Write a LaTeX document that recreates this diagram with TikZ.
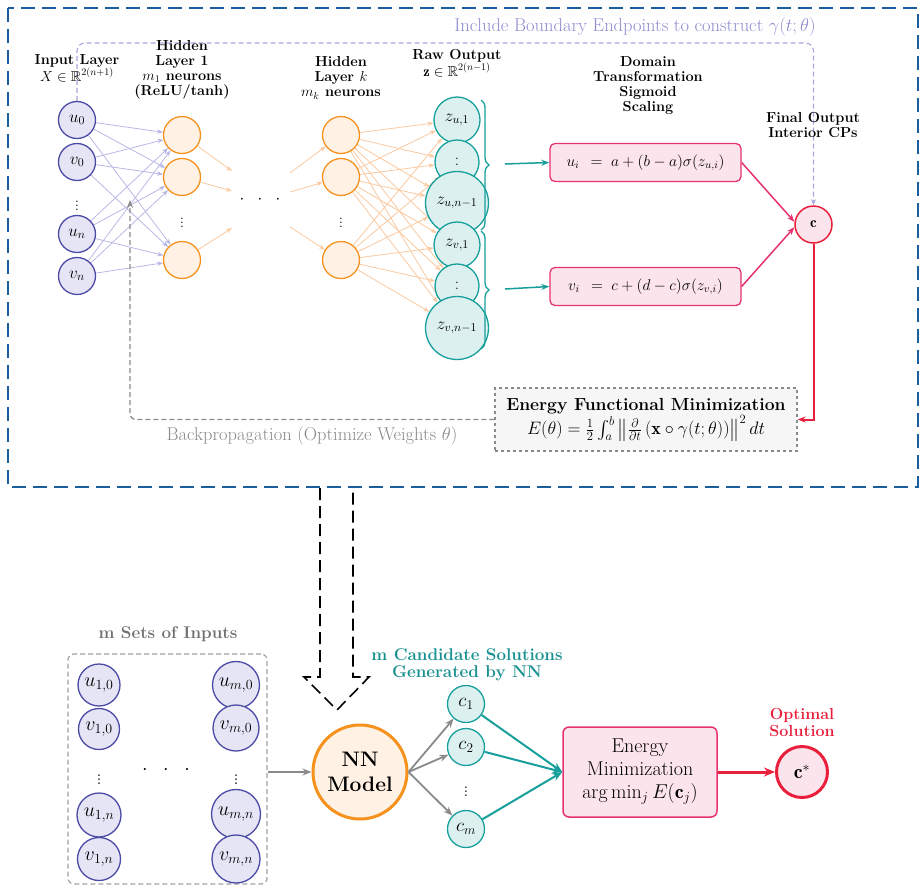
\RequirePackage{fix-cm}
\documentclass[tikz,border=0pt]{standalone}
\usepackage{amsmath,amssymb}
\usepackage{fontspec}
\usetikzlibrary{arrows.meta,decorations.pathreplacing,calc}
\pgfdeclarelayer{bg}
\pgfsetlayers{bg,main}
\newcommand{\fs}[2]{\fontsize{#1}{#2}\selectfont}
\definecolor{boxblue}{HTML}{1B5E9E}
\definecolor{lav}{HTML}{8C8CD0}
\definecolor{lavL}{HTML}{A8A8DE}
\definecolor{inpB}{HTML}{4B4BA6}
\definecolor{inpF}{HTML}{E5E5F5}
\definecolor{inpA}{HTML}{B8B8E6}
\definecolor{orB}{HTML}{F5921E}
\definecolor{orF}{HTML}{FFF1E3}
\definecolor{orA}{HTML}{FAC9A0}
\definecolor{tealB}{HTML}{17A09B}
\definecolor{tealT}{HTML}{17908F}
\definecolor{tealF}{HTML}{DDF0F0}
\definecolor{pinkB}{HTML}{E63370}
\definecolor{pinkF}{HTML}{FCE4EC}
\definecolor{redC}{HTML}{E8203C}
\definecolor{grayC}{HTML}{8A8A8A}
\definecolor{grayT}{HTML}{707070}
\definecolor{boxF}{HTML}{F6F6F6}
\begin{document}
\begin{tikzpicture}[x=1pt,y=-1pt,
  lbl/.style={align=center,font=\fs{14.5}{15}\bfseries,inner sep=0pt},
  inp/.style={circle,draw=inpB,fill=inpF,line width=1.3pt,minimum size=37pt,inner sep=0pt,font=\fs{17}{17}},
  hid/.style={circle,draw=orB,fill=orF,line width=1.3pt,minimum size=37pt,inner sep=0pt},
  rawo/.style={circle,draw=tealB,fill=tealF,line width=1.3pt,inner sep=0pt,font=\fs{17}{17}},
  pbox/.style={rectangle,rounded corners=5pt,draw=pinkB,fill=pinkF,line width=1.3pt,inner sep=2pt},
  dotsn/.style={inner sep=0pt,font=\fs{17}{17}},
  iarr/.style={draw=inpA,line width=0.8pt,-{Stealth[length=6pt,width=4.5pt]}},
  oarr/.style={draw=orA,line width=0.8pt,-{Stealth[length=6pt,width=4.5pt]}},
  tarr/.style={draw=tealB,line width=1.5pt,-{Stealth[length=8pt,width=6pt]}},
  parr/.style={draw=pinkB,line width=1.5pt,-{Stealth[length=8pt,width=6pt]}},
  binp/.style={circle,draw=inpB,fill=inpF,line width=1.3pt,inner sep=0pt,font=\fs{20}{20}},
  cc/.style={circle,draw=tealB,fill=tealF,line width=1.3pt,minimum size=37pt,inner sep=0pt,font=\fs{19}{19}},
  garr/.style={draw=grayC,line width=2pt,-{Stealth[length=9pt,width=7pt]}},
  tarr2/.style={draw=tealB,line width=2pt,-{Stealth[length=10pt,width=8pt]}}
]
\useasboundingbox (0,0) rectangle (924,892);

% ---------- top panel ----------
\draw[boxblue,line width=2.2pt,dash pattern=on 14pt off 7pt] (8,8) rectangle (918,487);
\node[text=lav,font=\fs{18.5}{20},inner sep=0pt] (inc) at (635,27) {Include Boundary Endpoints to construct $\gamma(t;\theta)$};

\node[lbl] (lin) at (77,68) {Input Layer\\$X\in\mathbb{R}^{2(n+1)}$};
\node[lbl] (lh1) at (182,70) {Hidden\\Layer 1\\$m_1$ neurons\\(ReLU/tanh)};
\node[lbl] (lhk) at (341,78) {Hidden\\Layer $k$\\$m_k$ neurons};
\node[lbl] (lraw) at (457,63) {Raw Output\\$\mathbf{z}\in\mathbb{R}^{2(n-1)}$};
\node[lbl] (ldom) at (648,85) {Domain\\Transformation\\Sigmoid\\Scaling};
\node[lbl] (lfin) at (813,125) {Final Output\\Interior CPs};

% input layer
\node[inp] (u0) at (77,120) {$u_0$};
\node[inp] (v0) at (77,162) {$v_0$};
\node[dotsn] (idots) at (77,203) {$\vdots$};
\node[inp] (un) at (77,234) {$u_n$};
\node[inp] (vn) at (77,276) {$v_n$};

% hidden 1
\node[hid] (h1a) at (182,135) {};
\node[hid] (h1b) at (182,177) {};
\node[dotsn] (h1d) at (182,220) {$\vdots$};
\node[hid] (h1c) at (182,260) {};
% hidden k
\node[hid] (hka) at (341,135) {};
\node[hid] (hkb) at (341,177) {};
\node[dotsn] (hkd) at (341,220) {$\vdots$};
\node[hid] (hkc) at (341,260) {};
\node[dotsn] (hdots) at (260,200) {$\cdot\;\;\cdot\;\;\cdot$};

% raw outputs
\node[rawo,minimum size=46pt] (zu1) at (457,120) {$z_{u,1}$};
\node[rawo,minimum size=44pt] (zud) at (457,162) {$:$};
\node[rawo,minimum size=63pt] (zun) at (457,203) {$z_{u,n-1}$};
\node[rawo,minimum size=46pt] (zv1) at (457,245) {$z_{v,1}$};
\node[rawo,minimum size=44pt] (zvd) at (457,286) {$:$};
\node[rawo,minimum size=63pt] (zvn) at (457,328) {$z_{v,n-1}$};

\draw[tealB,line width=1.3pt,decorate,decoration={brace,amplitude=8pt}] (481,100) -- (481,230);
\draw[tealB,line width=1.3pt,decorate,decoration={brace,amplitude=8pt}] (481,231) -- (481,349);
\coordinate (bu) at (505,164);
\coordinate (bv) at (505,289);

% transformation boxes
\node[pbox,minimum width=191pt,minimum height=38pt,font=\fs{15.5}{15}] (ubox) at (645.5,162.5) {$u_i\;\,=\;a+(b-a)\sigma(z_{u,i})$};
\node[pbox,minimum width=191pt,minimum height=38pt,font=\fs{15.5}{15}] (vbox) at (645.5,286.5) {$v_i\;\,=\;c+(d-c)\sigma(z_{v,i})$};

\node[circle,draw=redC,fill=pinkF,line width=1.5pt,minimum size=37pt,inner sep=0pt,font=\fs{15}{15}] (c) at (813.5,224.5) {$\mathbf{c}$};

% energy functional box
\node[rectangle,draw=grayC,fill=boxF,dashed,line width=1.3pt,minimum width=302pt,minimum height=63pt,align=center,inner sep=2pt] (ener) at (646,419.5)
  {{\fs{17.5}{20}\bfseries Energy Functional Minimization}\\[1pt]
   {\fs{18}{20}$E(\theta)=\frac{1}{2}\int_a^b\left\|\frac{\partial}{\partial t}\left(\mathbf{x}\circ\gamma(t;\theta)\right)\right\|^2dt$}};

\coordinate (topL) at (77,43);
\coordinate (topR) at (813.5,43);
\coordinate (bp) at (130,200);
\node[text=grayC,font=\fs{18.5}{20},inner sep=0pt] (bptext) at (312,436) {Backpropagation (Optimize Weights $\theta$)};

% dots arrows
\coordinate (d1) at (232,171);
\coordinate (d2) at (232,191);
\coordinate (d3) at (232,228);
\coordinate (e1) at (290,173);
\coordinate (e2) at (290,192);
\coordinate (e3) at (290,227);

\begin{pgfonlayer}{bg}
  \foreach \i in {u0,v0,un,vn}
    \foreach \j in {h1a,h1b,h1c}
      \draw[iarr] (\i) -- (\j);
  \foreach \i in {hka,hkb,hkc}
    \foreach \j in {zu1,zud,zun,zv1,zvd,zvn}
      \draw[oarr] (\i) -- (\j);
  \draw[oarr] (h1a) -- (d1);
  \draw[oarr] (h1b) -- (d2);
  \draw[oarr] (h1c) -- (d3);
  \draw[oarr] (e1) -- (hka);
  \draw[oarr] (e2) -- (hkb);
  \draw[oarr] (e3) -- (hkc);
  \draw[lavL,line width=1.1pt,dash pattern=on 5pt off 3pt,rounded corners=8pt,-{Stealth[length=6pt,width=5pt]}]
    (u0.north) -- (topL) -- (topR) -- (c.north);
  \draw[grayC,line width=1.3pt,dash pattern=on 5pt off 3pt,rounded corners=6pt,-{Stealth[length=8pt,width=6pt]}]
    (ener.west) -| (bp);
\end{pgfonlayer}

\draw[tarr] (bu) -- (ubox.west);
\draw[tarr] (bv) -- (vbox.west);
\draw[parr] (ubox.east) -- (c.172);
\draw[parr] (vbox.east) -- (c.188);
\draw[redC,line width=2pt,-{Stealth[length=8pt,width=6pt]}] (c.south) |- (ener.east);

% ---------- hollow arrow ----------
\coordinate (ha1) at (320,488);
\coordinate (ha2) at (320,677);
\coordinate (ha3) at (304,677);
\coordinate (hat) at (337,710);
\coordinate (ha4) at (369,677);
\coordinate (ha5) at (353,677);
\coordinate (ha6) at (353,488);
\draw[black,line width=1.6pt,dash pattern=on 12pt off 6pt] (ha1) -- (ha2) -- (ha3) -- (hat) -- (ha4) -- (ha5) -- (ha6);

% ---------- bottom panel ----------
\node[text=grayT,font=\fs{17}{20}\bfseries,inner sep=0pt] (msets) at (168,634) {m Sets of Inputs};
\node[rectangle,draw=grayC!80,dash pattern=on 5pt off 3pt,line width=1.2pt,rounded corners=6pt,minimum width=199pt,minimum height=230pt] (inbox) at (167.5,769) {};

\node[binp,minimum size=42pt] (u10) at (99,685) {$u_{1,0}$};
\node[binp,minimum size=41pt] (v10) at (99,729) {$v_{1,0}$};
\node[dotsn,font=\fs{20}{20}] (d1c) at (99,777) {$\vdots$};
\node[binp,minimum size=44pt] (u1n) at (99,815) {$u_{1,n}$};
\node[binp,minimum size=43pt] (v1n) at (99,859) {$v_{1,n}$};
\node[binp,minimum size=47pt] (um0) at (236,685) {$u_{m,0}$};
\node[binp,minimum size=46pt] (vm0) at (236,728) {$v_{m,0}$};
\node[dotsn,font=\fs{20}{20}] (dmc) at (236,777) {$\vdots$};
\node[binp,minimum size=49pt] (umn) at (236,814) {$u_{m,n}$};
\node[binp,minimum size=48pt] (vmn) at (236,859) {$v_{m,n}$};
\node[dotsn,font=\fs{20}{20}] (mdots) at (166,770) {$\cdot\;\;\cdot\;\;\cdot$};

\node[circle,draw=orB,fill=orF,line width=3pt,minimum size=94pt,inner sep=0pt,align=center,font=\fs{21}{25}\bfseries] (nn) at (360,772) {NN\\Model};
\draw[garr] (inbox.east |- nn) -- (nn.west);

\node[align=center,text=tealT,font=\fs{17}{16.5}\bfseries,inner sep=0pt] (mcand) at (467,665) {m Candidate Solutions\\Generated by NN};
\node[cc] (c1) at (466,704) {$c_1$};
\node[cc] (c2) at (466,747) {$c_2$};
\node[dotsn,font=\fs{19}{19}] (cd) at (466,789) {$\vdots$};
\node[cc] (cm) at (466,829) {$c_m$};

\draw[garr,line width=1.8pt] (nn.east) -- (c1);
\draw[garr,line width=1.8pt] (nn.east) -- (c2);
\draw[garr,line width=1.8pt] (nn.east) -- (cm);

\node[rectangle,rounded corners=6pt,draw=pinkB,fill=pinkF,line width=1.5pt,minimum width=154pt,minimum height=90pt,align=center,font=\fs{20}{23}] (emin) at (640,772)
  {Energy\\Minimization\\$\arg\min_j E(\mathbf{c}_j)$};
\draw[tarr2] (c1) -- (emin.west);
\draw[tarr2] (c2) -- (emin.west);
\draw[tarr2] (cm) -- (emin.west);

\node[align=center,text=redC,font=\fs{16}{17}\bfseries,inner sep=0pt] (opt) at (802,723) {Optimal\\Solution};
\node[circle,draw=redC,fill=pinkF,line width=3pt,minimum size=51pt,inner sep=0pt,font=\fs{20}{20}] (cs) at (802,772) {$\mathbf{c}^*$};
\draw[redC,line width=3pt,-{Stealth[length=11pt,width=9pt]}] (emin.east) -- (cs.west);
\end{tikzpicture}
\end{document}
